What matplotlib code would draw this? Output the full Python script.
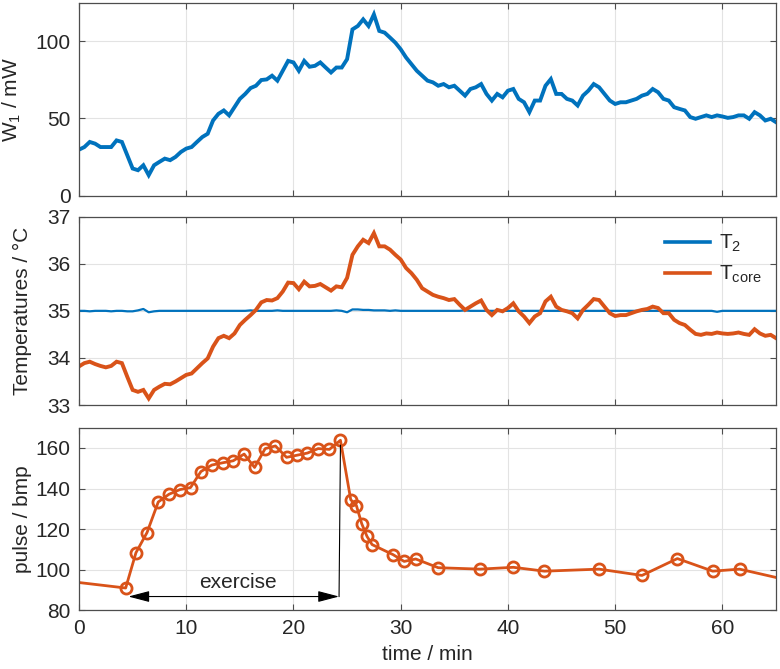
#!/usr/bin/env python3
"""Stacked W1 / temperature / pulse recording over an exercise session."""

import matplotlib

matplotlib.use("Agg")
import matplotlib.pyplot as plt
import numpy as np


OUTPUT_PNG = "out.png"

# sampled every 0.5 min from 0 to 65 min
TIME_STEP_MIN = 0.5
TIME_END_MIN = 65.0

W1_MW = [
    29.8, 31.5, 34.8, 33.7, 31.5, 31.5, 31.5, 35.8, 34.8, 26.2,
    17.6, 16.5, 19.7, 13.3, 19.7, 21.9, 24.0, 23.0, 25.1, 28.3,
    30.5, 31.5, 34.8, 38.0, 40.1, 48.7, 53.0, 55.2, 52.0, 57.3,
    62.7, 65.9, 69.7, 71.2, 74.9, 75.3, 77.7, 74.5, 80.9, 87.3,
    86.3, 80.9, 87.3, 83.5, 84.1, 86.3, 83.0, 79.8, 83.0, 83.0,
    88.4, 107.7, 109.9, 114.2, 109.9, 117.4, 106.7, 105.6, 102.4, 99.1,
    94.8, 89.5, 85.2, 80.9, 77.7, 74.5, 73.4, 71.2, 72.3, 70.2,
    71.2, 68.0, 64.8, 69.1, 70.2, 72.3, 65.9, 61.6, 65.9, 63.7,
    68.0, 69.1, 62.7, 60.5, 54.1, 61.6, 61.6, 71.2, 75.5, 65.9,
    65.9, 62.7, 61.6, 58.4, 64.8, 68.0, 72.3, 70.2, 65.9, 61.6,
    59.4, 60.5, 60.5, 61.6, 62.7, 64.8, 65.9, 69.1, 67.0, 62.7,
    61.6, 57.3, 56.2, 55.2, 50.9, 49.8, 50.9, 52.0, 50.9, 52.0,
    51.3, 50.4, 50.9, 52.0, 52.0, 49.8, 54.1, 52.0, 48.7, 49.8,
    47.6,
]

T2_C = [
    35.00, 35.00, 34.99, 35.00, 35.00, 35.00, 34.99, 35.00, 35.00, 34.99,
    34.99, 35.01, 35.04, 34.97, 34.99, 35.00, 35.00, 35.00, 35.00, 35.00,
    35.00, 35.00, 35.00, 35.00, 35.00, 35.00, 35.00, 35.00, 35.00, 35.00,
    35.00, 35.00, 35.01, 35.00, 35.00, 35.00, 35.00, 35.01, 35.00, 35.00,
    35.00, 35.00, 35.00, 35.00, 35.00, 35.00, 35.00, 35.00, 35.01, 35.00,
    34.97, 35.03, 35.03, 35.02, 35.02, 35.01, 35.01, 35.01, 35.00, 35.01,
    35.00, 35.00, 35.00, 35.00, 35.00, 35.00, 35.00, 35.00, 35.00, 35.00,
    35.00, 35.00, 35.01, 35.00, 35.00, 35.00, 35.00, 35.00, 35.00, 35.00,
    35.00, 35.00, 35.00, 35.00, 35.00, 35.00, 35.00, 35.00, 35.00, 35.00,
    35.00, 35.00, 35.00, 35.00, 35.00, 35.00, 35.00, 35.00, 35.00, 35.00,
    35.00, 35.00, 35.00, 35.00, 35.00, 35.00, 35.00, 35.00, 35.00, 35.00,
    35.00, 35.00, 35.00, 35.00, 35.00, 35.00, 35.00, 35.00, 35.00, 34.98,
    35.00, 35.00, 35.00, 35.00, 35.00, 35.00, 35.00, 35.00, 35.00, 35.00,
    35.00,
]

TCORE_C = [
    33.82, 33.89, 33.92, 33.87, 33.83, 33.80, 33.83, 33.92, 33.89, 33.60,
    33.32, 33.28, 33.32, 33.14, 33.32, 33.39, 33.45, 33.44, 33.50, 33.57,
    33.64, 33.67, 33.78, 33.89, 33.99, 34.24, 34.42, 34.47, 34.42, 34.52,
    34.70, 34.81, 34.91, 35.02, 35.18, 35.23, 35.22, 35.27, 35.41, 35.60,
    35.59, 35.46, 35.62, 35.52, 35.53, 35.57, 35.50, 35.43, 35.52, 35.50,
    35.70, 36.19, 36.37, 36.51, 36.44, 36.65, 36.37, 36.37, 36.30, 36.19,
    36.09, 35.91, 35.80, 35.66, 35.48, 35.41, 35.34, 35.30, 35.27, 35.23,
    35.25, 35.13, 35.02, 35.09, 35.16, 35.22, 35.02, 34.91, 35.02, 34.99,
    35.06, 35.16, 34.99, 34.88, 34.74, 34.88, 34.95, 35.20, 35.30, 35.09,
    35.02, 34.99, 34.95, 34.84, 35.02, 35.13, 35.25, 35.23, 35.09, 34.95,
    34.89, 34.91, 34.91, 34.95, 34.99, 35.02, 35.04, 35.09, 35.06, 34.95,
    34.95, 34.81, 34.74, 34.70, 34.60, 34.51, 34.49, 34.52, 34.51, 34.54,
    34.52, 34.51, 34.52, 34.54, 34.51, 34.49, 34.61, 34.52, 34.47, 34.49,
    34.42,
]

PULSE_TIME_MIN = [
    0.0, 4.35, 5.31, 6.34, 7.39, 8.39, 9.41, 10.4, 11.37, 12.39,
    13.39, 14.38, 15.4, 16.37, 17.36, 18.32, 19.35, 20.3, 21.3, 22.3,
    23.35, 24.38, 25.34, 25.87, 26.37, 26.86, 27.33, 29.3, 30.32, 31.4,
    33.5, 37.4, 40.5, 43.4, 48.5, 52.5, 55.8, 59.1, 61.6, 65.0,
]
PULSE_BPM = [
    93.7, 91.0, 108.4, 118.3, 133.4, 137.2, 139.5, 140.5, 148.4, 151.6,
    152.7, 153.7, 157.0, 150.4, 159.7, 161.0, 155.4, 156.4, 157.5, 159.7,
    159.3, 163.8, 134.5, 131.6, 122.6, 116.4, 112.4, 107.4, 104.1, 105.3,
    101.0, 100.3, 101.2, 99.3, 100.3, 97.2, 105.5, 99.3, 100.3, 96.2,
]

EXERCISE_START_MIN = 4.6
EXERCISE_END_MIN = 24.25
EXERCISE_ARROW_BPM = 86.8
EXERCISE_LABEL = "exercise"

X_TICKS = [0, 10, 20, 30, 40, 50, 60]

BLUE = "#0072BD"
ORANGE = "#D95319"
GRID_COLOR = "#E3E3E3"
EDGE_COLOR = "#4D4D4D"
TEXT_COLOR = "#262626"
FONT_SIZE = 15


def configure_matplotlib():
    plt.rcParams.update(
        {
            "font.family": ["Liberation Sans", "DejaVu Sans"],
            "font.size": FONT_SIZE,
            "mathtext.default": "regular",
            "axes.edgecolor": EDGE_COLOR,
            "axes.labelcolor": TEXT_COLOR,
            "axes.linewidth": 0.9,
            "text.color": TEXT_COLOR,
            "xtick.color": TEXT_COLOR,
            "ytick.color": TEXT_COLOR,
            "xtick.labelsize": FONT_SIZE,
            "ytick.labelsize": FONT_SIZE,
        }
    )


def style_axis(ax, show_xlabels):
    ax.set_xlim(0, TIME_END_MIN)
    ax.set_xticks(X_TICKS)
    if not show_xlabels:
        ax.set_xticklabels([])
    ax.grid(True, color=GRID_COLOR, linewidth=0.8)
    ax.set_axisbelow(True)
    ax.tick_params(direction="in", top=True, right=True, length=4.5,
                   width=0.8, color=EDGE_COLOR)
    ax.tick_params(axis="y", pad=6)
    ax.tick_params(axis="x", pad=6)


def plot():
    configure_matplotlib()
    t = np.arange(len(W1_MW)) * TIME_STEP_MIN

    fig = plt.figure(figsize=(7.8, 6.69), dpi=100)
    ax_w = fig.add_axes([0.1013, 0.7075, 0.8936, 0.2885])
    ax_t = fig.add_axes([0.1013, 0.3946, 0.8936, 0.2815])
    ax_p = fig.add_axes([0.1013, 0.0877, 0.8936, 0.2730])

    # heating power
    ax_w.plot(t, W1_MW, color=BLUE, linewidth=2.8, solid_joinstyle="miter")
    ax_w.set_ylim(0, 125)
    ax_w.set_yticks([0, 50, 100])
    ax_w.set_ylabel("W$_1$ / mW")
    style_axis(ax_w, False)

    # temperatures
    ax_t.plot(t, T2_C, color=BLUE, linewidth=1.6, label="T$_2$")
    ax_t.plot(t, TCORE_C, color=ORANGE, linewidth=2.8,
              solid_joinstyle="miter", label="T$_{core}$")
    ax_t.set_ylim(33, 37)
    ax_t.set_yticks([33, 34, 35, 36, 37])
    ax_t.set_ylabel("Temperatures / °C")
    style_axis(ax_t, False)
    leg = ax_t.legend(loc="upper right", frameon=False, handlelength=2.2,
                      fontsize=FONT_SIZE, borderaxespad=0.3, labelspacing=0.45,
                      handletextpad=0.4, bbox_to_anchor=(1.0, 0.99))
    for handle in leg.legend_handles:
        handle.set_linewidth(2.6)

    # pulse
    ax_p.plot(PULSE_TIME_MIN, PULSE_BPM, color=ORANGE, linewidth=2.0,
              marker="o", markersize=8, markerfacecolor="none",
              markeredgewidth=2.0, markevery=list(range(1, len(PULSE_BPM) - 1)))
    ax_p.set_ylim(80, 170)
    ax_p.set_yticks([80, 100, 120, 140, 160])
    ax_p.set_ylabel("pulse / bmp")
    ax_p.set_xlabel("time / min", labelpad=5)
    style_axis(ax_p, True)

    peak_idx = int(np.argmax(PULSE_BPM))
    ax_p.annotate(
        "",
        xy=(EXERCISE_START_MIN, EXERCISE_ARROW_BPM),
        xytext=(EXERCISE_END_MIN, EXERCISE_ARROW_BPM),
        arrowprops=dict(arrowstyle="<|-|>,head_length=0.65,head_width=0.17",
                        color="black", linewidth=0.8, mutation_scale=20,
                        shrinkA=0, shrinkB=0),
    )
    ax_p.plot([EXERCISE_END_MIN, PULSE_TIME_MIN[peak_idx]],
              [EXERCISE_ARROW_BPM, PULSE_BPM[peak_idx] - 2.5],
              color="black", linewidth=0.8)
    ax_p.text((EXERCISE_START_MIN + EXERCISE_END_MIN) / 2.0 + 0.4, 93.7,
              EXERCISE_LABEL, ha="center", va="center", fontsize=FONT_SIZE,
              color=TEXT_COLOR)

    ax_w.yaxis.set_label_coords(-0.08, 0.5)
    ax_t.yaxis.set_label_coords(-0.068, 0.5)
    ax_p.yaxis.set_label_coords(-0.068, 0.5)

    fig.savefig(OUTPUT_PNG, dpi=100)
    plt.close(fig)


if __name__ == "__main__":
    plot()
